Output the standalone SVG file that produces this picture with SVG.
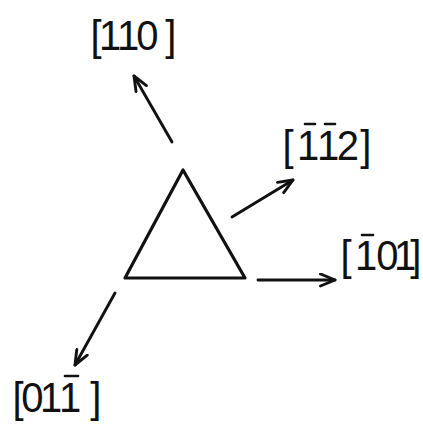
<svg xmlns="http://www.w3.org/2000/svg" width="423" height="425" viewBox="0 0 423 425">
<style>
.lbl{font-family:"Liberation Sans",Arial,sans-serif;font-size:40px;fill:#111}
.bar{stroke:#111;stroke-width:2.6;stroke-linecap:round}
.arr{stroke:#111;stroke-width:2.9;fill:none;stroke-linecap:round;marker-end:url(#ah)}
</style>
<defs>
<marker id="ah" markerUnits="userSpaceOnUse" markerWidth="19" markerHeight="15" refX="16" refY="7.5" orient="auto">
<path d="M1.5,1.5 L16,7.5 L1.5,13.5" fill="none" stroke="#111" stroke-width="2.9" stroke-linecap="round" stroke-linejoin="round"/>
</marker>
</defs>
<rect width="423" height="425" fill="#fff"/>
<g id="triangle">
<polygon points="183,170 125,278 245,278" fill="none" stroke="#111" stroke-width="3.2" stroke-linejoin="round"/>
</g>
<g id="connectors">
<line class="arr" x1="172" y1="142" x2="134" y2="76"/>
<line class="arr" x1="232" y1="217" x2="293" y2="180"/>
<line class="arr" x1="258" y1="280" x2="335" y2="280"/>
<line class="arr" x1="115" y1="293" x2="75" y2="365"/>
</g>
<g id="label-110">
<text class="lbl" transform="translate(0,50) scale(1,1.08)" x="90.6 98.9 116.9 136.3 165.2" y="0">[110]</text>
</g>
<g id="label-112">
<text class="lbl" transform="translate(0,160) scale(1,1.08)" x="282.6 296.9 316.9 336.8 360.2" y="0">[112]</text>
<line class="bar" x1="305" y1="124" x2="315" y2="124"/>
<line class="bar" x1="325" y1="124" x2="335" y2="124"/>
</g>
<g id="label-101">
<text class="lbl" transform="translate(0,270) scale(1,1.08)" x="340.6 354.9 376.3 393.9 410.2" y="0">[101]</text>
<line class="bar" x1="362" y1="235" x2="373" y2="235"/>
</g>
<g id="label-011">
<text class="lbl" transform="translate(0,412) scale(1,1.08)" x="12.6 21.3 39.9 58.9 90.2" y="0">[011]</text>
<line class="bar" x1="65" y1="376" x2="78" y2="376"/>
</g>
</svg>
